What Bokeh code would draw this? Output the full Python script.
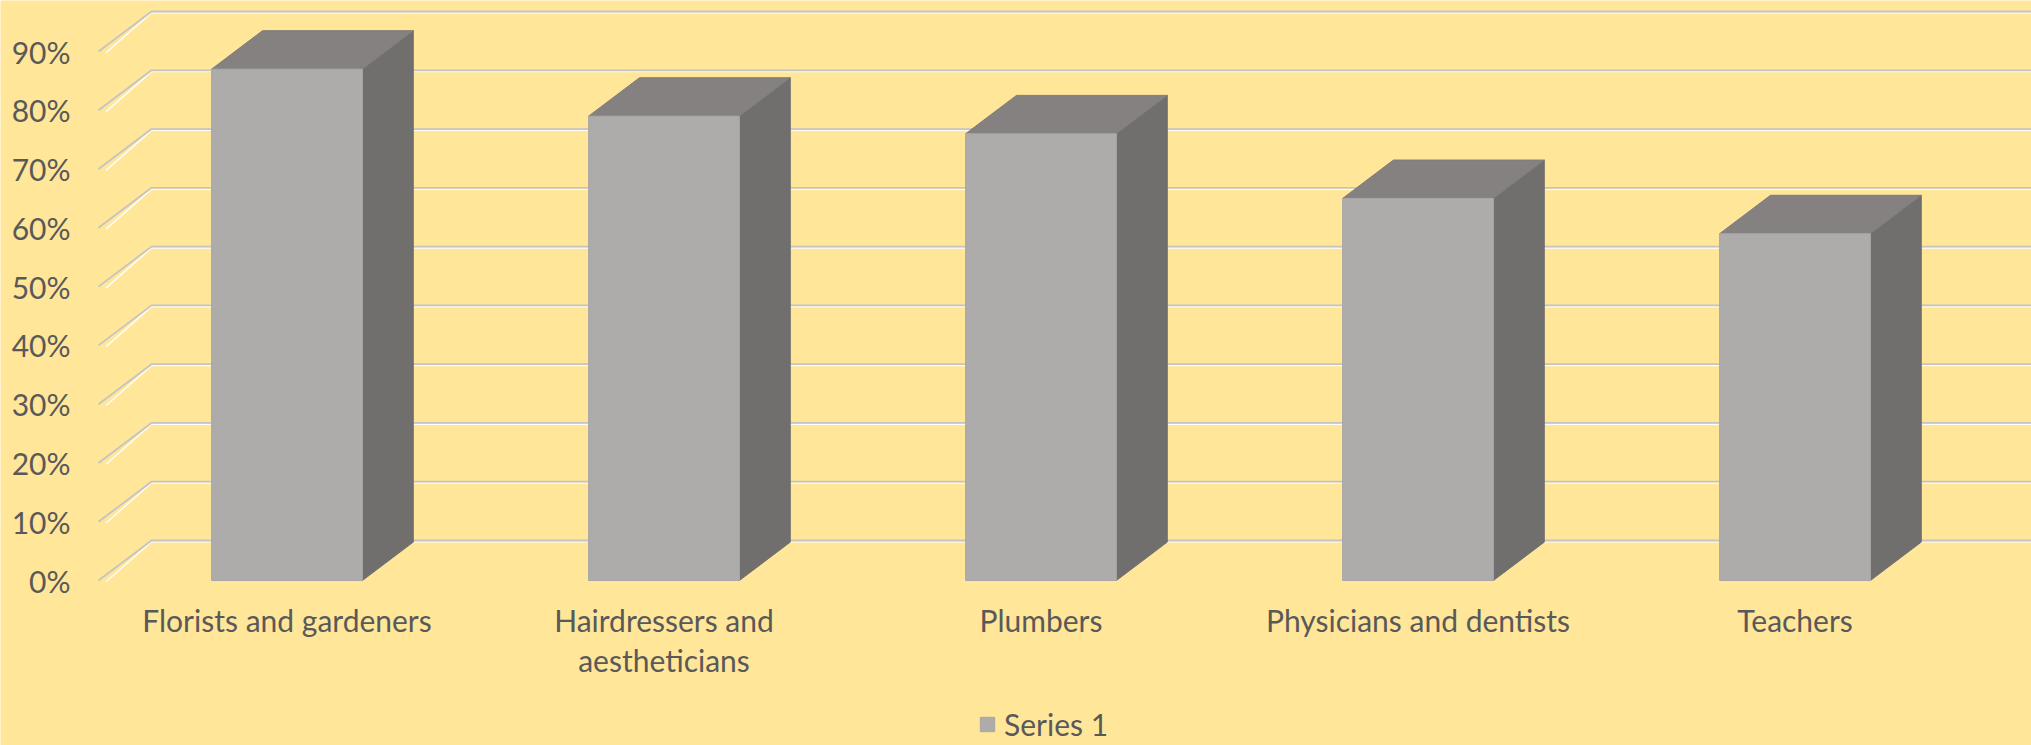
from bokeh.plotting import figure
from bokeh.models import Range1d, Legend, LegendItem, ColumnDataSource
from bokeh.core.properties import value
from bokeh.embed import file_html
from bokeh.resources import INLINE

# ---- data ----
categories = ["Florists and gardeners", "Hairdressers and\naestheticians", "Plumbers",
              "Physicians and dentists", "Teachers"]
values = [87, 79, 76, 65, 59]
tick_values = [0, 10, 20, 30, 40, 50, 60, 70, 80, 90]
tick_labels = ["0%", "10%", "20%", "30%", "40%", "50%", "60%", "70%", "80%", "90%"]
series_name = "Series 1"

# ---- style / layout ----
BG = "#FFE699"
TXT = "#595959"
FONT = "Lato"
FS = "30px"
W, H = 2031, 745
FRONT_LEFT = 98.0       # px of the front floor's left edge
ZERO_Y = 580.0          # px of 0% on the front plane
PX_X = 377.0            # pixels per category
PX_Y = 529.0 / 90.0     # pixels per percent
DX = 53.0 / PX_X        # depth offset in x units
DY = 40.0 / PX_Y        # depth offset in y units
BAR_W = 0.4
DEPTH = 0.96

x0 = -0.5 - FRONT_LEFT / PX_X
x1 = x0 + W / PX_X
y_top = ZERO_Y / PX_Y
y_bot = y_top - H / PX_Y

p = figure(width=W, height=H, output_backend="svg", toolbar_location=None,
           x_range=Range1d(x0, x1), y_range=Range1d(y_bot, y_top),
           x_axis_location=None, y_axis_location=None,
           min_border_left=0, min_border_right=0,
           min_border_top=0, min_border_bottom=0)
p.background_fill_color = BG
p.border_fill_color = BG
p.outline_line_color = None
p.grid.visible = False

n = len(categories)

# value-axis labels at the front plane
ylab = ColumnDataSource(dict(x=[-0.5] * len(tick_values), y=tick_values, text=tick_labels))
p.text(x="x", y="y", text="text", source=ylab, x_offset=-28, text_align="right",
       text_baseline="middle", text_font=value(FONT), text_font_size=FS, text_color=TXT)

# gridlines (side wall diagonal + back wall horizontal)
gx, gy, gx2, gy2 = [], [], [], []
for v in tick_values:
    gx.append([-0.5, -0.5 + DX, n - 0.5 + DX])
    gy.append([v, v + DY, v + DY])
    gx2.append([-0.5 + 0.02, -0.5 + DX, n - 0.5 + DX])
    gy2.append([v - 0.22, v + DY - 0.22, v + DY - 0.22])
p.multi_line(gx2, gy2, line_color="#FFFFFF", line_width=1.5, line_alpha=0.9)
p.multi_line(gx, gy, line_color="#C4C4C4", line_width=1.8)

# bars
fx, fy, tx, ty, sx, sy = [], [], [], [], [], []
dx, dy = DX * DEPTH, DY * DEPTH
for i, v in enumerate(values):
    l, r = i - BAR_W / 2, i + BAR_W / 2
    fx.append([l, r, r, l]); fy.append([0, 0, v, v])
    tx.append([l, r, r + dx, l + dx]); ty.append([v, v, v + dy, v + dy])
    sx.append([r, r + dx, r + dx, r]); sy.append([0, dy, v + dy, v])

p.patches(sx, sy, fill_color="#716E6E", line_color="#716E6E", line_width=1)
p.patches(tx, ty, fill_color="#858181", line_color="#7E7A7A", line_width=1)
front = p.patches(fx, fy, fill_color="#AEABAB", line_color="#A9A6A6", line_width=1)

# category labels
lab_src = ColumnDataSource(dict(x=list(range(n)), y=[-3.6] * n, text=categories))
p.text(x="x", y="y", text="text", source=lab_src, text_align="center",
       text_baseline="top", text_font=value(FONT), text_font_size=FS,
       text_color=TXT, text_line_height=1.11)

# legend
legend = Legend(items=[LegendItem(label=series_name, renderers=[front])],
                location=(978, 3), orientation="horizontal",
                background_fill_alpha=0, border_line_color=None,
                label_text_font=FONT, label_text_font_size=FS, label_text_color=TXT,
                glyph_width=18, glyph_height=18, label_standoff=8,
                padding=0, margin=0, label_height=22)
p.add_layout(legend)

html = file_html(p, INLINE)
html = html.replace("<body>", '<body style="background-color:#FFE699;">', 1)
open("out.html", "w").write(html)
